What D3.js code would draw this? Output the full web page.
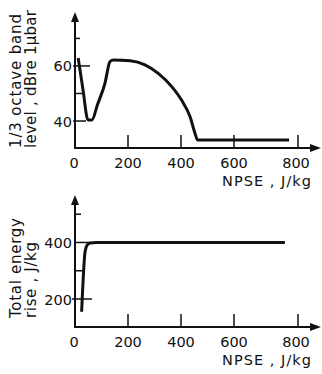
<!DOCTYPE html>
<html>
<head>
<meta charset="utf-8">
<script src="https://cdn.jsdelivr.net/npm/d3@7"></script>
<style>
  body { margin: 0; background: #fff; }
  text { font-family: "DejaVu Sans", sans-serif; fill: #111; }
</style>
</head>
<body>
<div id="chart"></div>
<script>
// top panel: 1/3 octave band level vs NPSE
var topX = [12, 30, 49, 64, 85, 113, 132, 145, 208, 264, 314, 365, 402, 434, 453, 463, 772];
var topY = [62.9, 51.5, 40.4, 40.4, 46, 53.7, 61.6, 62.2, 61.9, 60.4, 57.3, 52.5, 47.6, 41.6, 35.5, 33.1, 33.1];
var topTicks = [40, 50, 60, 70];
var topTickLabels = ["40", "", "60", ""];

// bottom panel: total energy rise vs NPSE
var botX = [25, 38, 45, 57, 80, 759];
var botY = [155, 367, 390, 398, 400, 400];
var botTicks = [200, 300, 400, 500];
var botTickLabels = ["200", "", "400", ""];

var xTicks = [0, 200, 400, 600, 800];

var width = 322, height = 374;

var svg = d3.select("#chart").append("svg")
  .attr("width", width)
  .attr("height", height);

// hand drawn axis is a little uneven, so piecewise scale
var x = d3.scaleLinear().domain([0, 600, 800]).range([75, 234, 298]);

function panel(opts) {
  var y = d3.scaleLinear().domain(opts.yDomain).range([opts.bottom, opts.top]);
  var g = svg.append("g");

  // y axis with arrow
  g.append("line")
    .attr("x1", 75).attr("x2", 75)
    .attr("y1", opts.bottom).attr("y2", opts.top + 6)
    .attr("stroke", "#111").attr("stroke-width", 2);
  g.append("path")
    .attr("d", "M75," + opts.top + " L71," + (opts.top + 10) + " L79," + (opts.top + 10) + "Z")
    .attr("fill", "#111");

  // x axis with arrow
  g.append("line")
    .attr("x1", 74).attr("x2", 314)
    .attr("y1", opts.bottom).attr("y2", opts.bottom)
    .attr("stroke", "#111").attr("stroke-width", 2);
  g.append("path")
    .attr("d", "M321," + opts.bottom + " L310," + (opts.bottom - 4) + " L310," + (opts.bottom + 4) + "Z")
    .attr("fill", "#111");

  // x ticks (upward) and labels
  g.selectAll(".xt").data(xTicks.slice(1)).enter().append("line")
    .attr("x1", function(d) { return x(d); }).attr("x2", function(d) { return x(d); })
    .attr("y1", opts.bottom).attr("y2", opts.bottom - 13)
    .attr("stroke", "#111").attr("stroke-width", 1.5);
  g.selectAll(".xl").data(xTicks).enter().append("text")
    .attr("x", function(d) { return d == 0 ? x(d) - 1 : x(d) - (d == 800 ? 2 : 0); })
    .attr("y", opts.bottom + 20)
    .attr("text-anchor", "middle")
    .attr("font-size", "14.5px")
    .text(function(d) { return d; });

  // y ticks
  g.selectAll(".yt").data(opts.yTicks).enter().append("line")
    .attr("x1", function(d, i) { return opts.tickLeft[i]; })
    .attr("x2", function(d, i) { return opts.tickRight[i]; })
    .attr("y1", function(d) { return y(d); }).attr("y2", function(d) { return y(d); })
    .attr("stroke", "#111").attr("stroke-width", 1.5);
  g.selectAll(".yl").data(opts.yTicks).enter().append("text")
    .attr("x", 72)
    .attr("y", function(d) { return y(d) + 5.5; })
    .attr("text-anchor", "end")
    .attr("font-size", "14.5px")
    .text(function(d, i) { return opts.yLabels[i]; });

  // curve
  var line = d3.line()
    .x(function(d) { return x(d[0]); })
    .y(function(d) { return y(d[1]); })
    .curve(d3.curveMonotoneX);
  g.append("path")
    .datum(d3.zip(opts.xs, opts.ys))
    .attr("d", line)
    .attr("fill", "none")
    .attr("stroke", "#111")
    .attr("stroke-width", 3)
    .attr("stroke-linejoin", "round");

  // x title
  g.append("text")
    .attr("x", 222).attr("y", opts.bottom + 38)
    .attr("font-size", "14.5px")
    .attr("textLength", 89)
    .text("NPSE , J/kg");

  // y titles (rotated, two lines)
  opts.yTitle.forEach(function(t, i) {
    g.append("text")
      .attr("transform", "translate(" + (21 + i * 15) + "," + opts.titleBase + ") rotate(-90)")
      .attr("font-size", "15px")
      .attr("textLength", opts.titleLen[i])
      .text(t);
  });
}

panel({
  top: 12, bottom: 148,
  yDomain: [30.2, 79.6],
  yTicks: topTicks, yLabels: topTickLabels,
  tickLeft: [73, 75, 73, 75], tickRight: [86, 83, 90, 80],
  xs: topX, ys: topY,
  yTitle: ["1/3 octave band", "level , dBre 1\u03bcbar"],
  titleBase: 148, titleLen: [134, 138]
});

panel({
  top: 195, bottom: 327,
  yDomain: [101, 568],
  yTicks: botTicks, yLabels: botTickLabels,
  tickLeft: [72, 76, 75, 76], tickRight: [92, 83, 90, 81],
  xs: botX, ys: botY,
  yTitle: ["Total energy", "rise , J/kg"],
  titleBase: 318, titleLen: [100, 76]
});
</script>
</body>
</html>
